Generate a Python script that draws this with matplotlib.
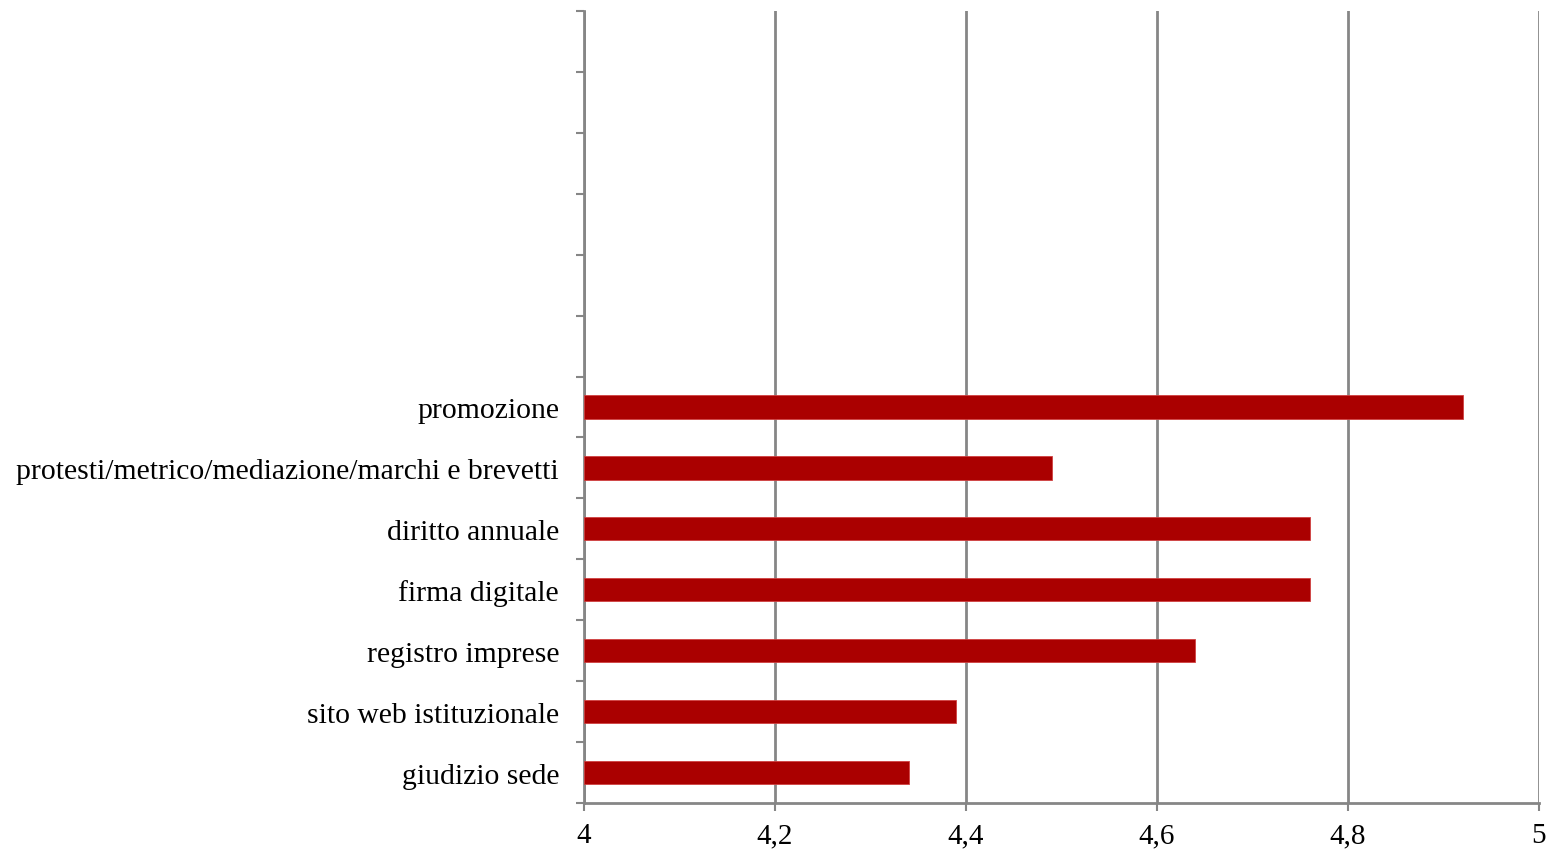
import numpy as np
import matplotlib
matplotlib.use('Agg')
from matplotlib import pyplot as plt

# Data (bottom to top)
categories = ['giudizio sede', 'sito web istituzionale', 'registro imprese',
              'firma digitale', 'diritto annuale',
              'protesti/metrico/mediazione/marchi e brevetti', 'promozione']
values = [4.34, 4.39, 4.64, 4.76, 4.76, 4.49, 4.92]
n_slots = 13  # chart reserves 13 rows, top 6 are empty
x_ticks = [4, 4.2, 4.4, 4.6, 4.8, 5]
x_labels = ['4', '4,2', '4,4', '4,6', '4,8', '5']

plt.rcParams['font.family'] = ['Liberation Serif', 'DejaVu Serif']

fig = plt.figure(figsize=(15.52, 8.53), dpi=100)
ax = fig.add_axes([0.3763, 0.0574, 0.6153, 0.9285])

grid_col = '#868686'
y = np.arange(len(categories))
ax.barh(y, [v - 4 for v in values], left=4, height=0.38, color='#AA0000',
        edgecolor='#D04040', linewidth=0.6, zorder=3)

ax.set_xlim(4, 5)
ax.set_ylim(-0.5, n_slots - 0.5)
ax.set_xticks(x_ticks)
ax.set_xticklabels(x_labels, fontsize=21)
ax.set_yticks(y)
ax.set_yticklabels(categories, fontsize=21.3)
ax.set_yticks(np.arange(-0.5, n_slots), minor=True)

ax.xaxis.grid(True, color=grid_col, linewidth=2, zorder=1)
ax.tick_params(axis='y', which='major', length=0, pad=18)
ax.tick_params(axis='y', which='minor', length=6, width=1.5, color=grid_col)
ax.tick_params(axis='x', length=6, width=1.5, color=grid_col, pad=8)

for s in ['top', 'right']:
    ax.spines[s].set_visible(False)
for s in ['left', 'bottom']:
    ax.spines[s].set_color(grid_col)
    ax.spines[s].set_linewidth(2)

fig.savefig('out.png', dpi=100)
